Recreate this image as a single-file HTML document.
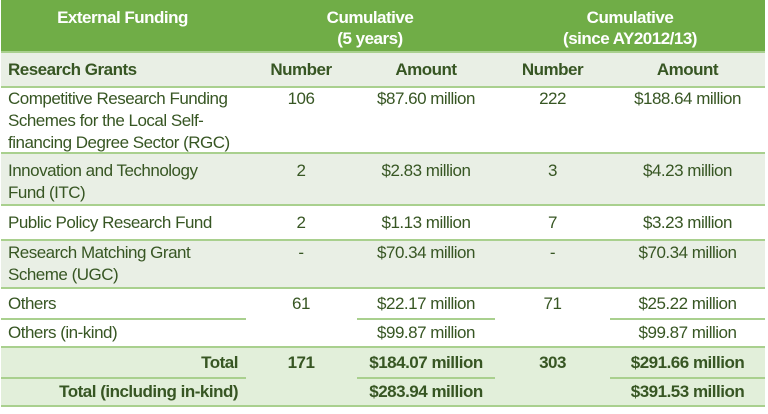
<!DOCTYPE html>
<html><head><meta charset="utf-8"><style>
body{margin:0;width:768px;height:414px;background:#fff;font-family:"Liberation Sans",sans-serif;color:#375623;overflow:hidden}
.r{position:absolute;left:1px;width:764px}
.t{position:absolute;font-size:17px;line-height:21px;letter-spacing:-0.5px;white-space:nowrap}
.c{text-align:center}
.b{font-weight:bold}
.h{color:#fff;font-weight:bold}
.ln{position:absolute;height:2px;background:#a9d08e}
</style></head><body>
<div class="r" style="top:0;height:52px;background:#70ad47"></div>
<div class="r" style="top:52px;height:35px;background:#e9efe5"></div>
<div class="r" style="top:153px;height:52px;background:#e9efe5"></div>
<div class="r" style="top:240px;height:48px;background:#e9efe5"></div>
<div class="r" style="top:347px;height:60px;background:#e2efda"></div>
<div class="ln" style="left:1px;width:764px;top:51px"></div>
<div class="ln" style="left:1px;width:764px;top:86px"></div>
<div class="ln" style="left:1px;width:764px;top:152px"></div>
<div class="ln" style="left:1px;width:764px;top:204px"></div>
<div class="ln" style="left:1px;width:764px;top:239px"></div>
<div class="ln" style="left:1px;width:764px;top:287px"></div>
<div class="ln" style="left:1px;width:245px;top:318px"></div>
<div class="ln" style="left:357px;width:138px;top:318px"></div>
<div class="ln" style="left:610px;width:155px;top:318px"></div>
<div class="ln" style="left:1px;width:764px;top:346px"></div>
<div class="ln" style="left:1px;width:245px;top:377px"></div>
<div class="ln" style="left:357px;width:138px;top:377px"></div>
<div class="ln" style="left:610px;width:155px;top:377px"></div>
<div class="ln" style="left:1px;width:764px;top:405px"></div>

<div class="t h c" style="left:0;width:245px;top:7px">External Funding</div>
<div class="t h c" style="left:245px;width:250px;top:7px">Cumulative<br>(5 years)</div>
<div class="t h c" style="left:495px;width:270px;top:7px">Cumulative<br>(since AY2012/13)</div>

<div class="t b" style="left:8px;top:59px">Research Grants</div>
<div class="t b c" style="left:245px;width:112px;top:59px">Number</div>
<div class="t b c" style="left:357px;width:138px;top:59px">Amount</div>
<div class="t b c" style="left:495px;width:115px;top:59px">Number</div>
<div class="t b c" style="left:610px;width:155px;top:59px">Amount</div>

<div class="t" style="left:8px;top:88px;line-height:22px">Competitive Research Funding<br>Schemes for the Local Self-<br>financing Degree Sector (RGC)</div>
<div class="t c" style="left:245px;width:112px;top:88px">106</div>
<div class="t c" style="left:357px;width:138px;top:88px">$87.60 million</div>
<div class="t c" style="left:495px;width:115px;top:88px">222</div>
<div class="t c" style="left:610px;width:155px;top:88px">$188.64 million</div>

<div class="t" style="left:8px;top:160px;line-height:22px">Innovation and Technology<br>Fund (ITC)</div>
<div class="t c" style="left:245px;width:112px;top:160px">2</div>
<div class="t c" style="left:357px;width:138px;top:160px">$2.83 million</div>
<div class="t c" style="left:495px;width:115px;top:160px">3</div>
<div class="t c" style="left:610px;width:155px;top:160px">$4.23 million</div>

<div class="t" style="left:8px;top:212px">Public Policy Research Fund</div>
<div class="t c" style="left:245px;width:112px;top:212px">2</div>
<div class="t c" style="left:357px;width:138px;top:212px">$1.13 million</div>
<div class="t c" style="left:495px;width:115px;top:212px">7</div>
<div class="t c" style="left:610px;width:155px;top:212px">$3.23 million</div>

<div class="t" style="left:8px;top:242px;line-height:22px">Research Matching Grant<br>Scheme (UGC)</div>
<div class="t c" style="left:245px;width:112px;top:242px">-</div>
<div class="t c" style="left:357px;width:138px;top:242px">$70.34 million</div>
<div class="t c" style="left:495px;width:115px;top:242px">-</div>
<div class="t c" style="left:610px;width:155px;top:242px">$70.34 million</div>

<div class="t" style="left:8px;top:293px">Others</div>
<div class="t c" style="left:245px;width:112px;top:293px">61</div>
<div class="t c" style="left:357px;width:138px;top:293px">$22.17 million</div>
<div class="t c" style="left:495px;width:115px;top:293px">71</div>
<div class="t c" style="left:610px;width:155px;top:293px">$25.22 million</div>

<div class="t" style="left:8px;top:322px">Others (in-kind)</div>
<div class="t c" style="left:357px;width:138px;top:322px">$99.87 million</div>
<div class="t c" style="left:610px;width:155px;top:322px">$99.87 million</div>

<div class="t b" style="left:0;width:238px;text-align:right;top:352px">Total</div>
<div class="t b c" style="left:245px;width:112px;top:352px">171</div>
<div class="t b c" style="left:357px;width:138px;top:352px">$184.07 million</div>
<div class="t b c" style="left:495px;width:115px;top:352px">303</div>
<div class="t b c" style="left:610px;width:155px;top:352px">$291.66 million</div>

<div class="t b" style="left:0;width:238px;text-align:right;top:381px">Total (including in-kind)</div>
<div class="t b c" style="left:357px;width:138px;top:381px">$283.94 million</div>
<div class="t b c" style="left:610px;width:155px;top:381px">$391.53 million</div>
</body></html>
